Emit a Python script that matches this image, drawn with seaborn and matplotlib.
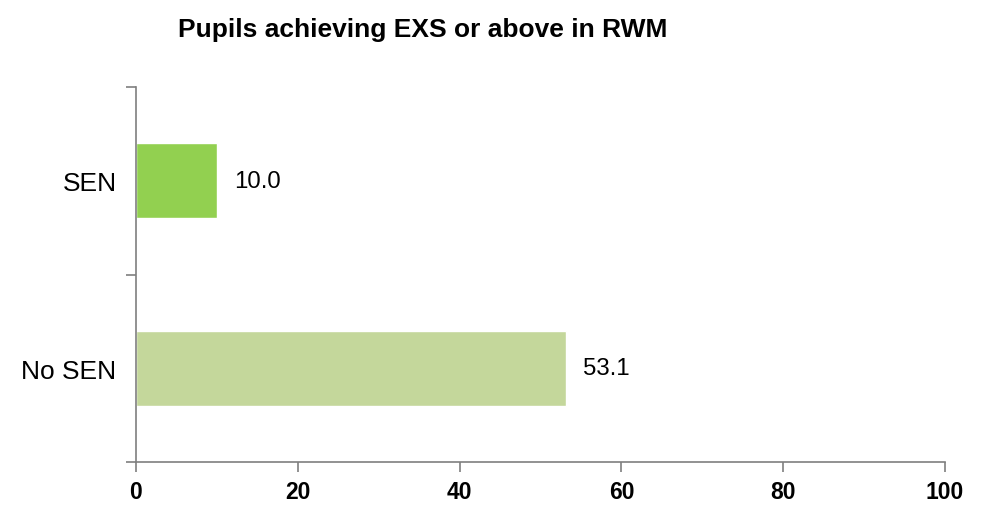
import matplotlib
matplotlib.use("Agg")
import matplotlib.pyplot as plt
import seaborn as sns
import pandas as pd

groups = ["SEN", "No SEN"]
values = [10.0, 53.1]
colors = ["#92D050", "#C4D79B"]

sns.set_style("white")
plt.rcParams["font.family"] = ["Liberation Sans", "DejaVu Sans"]
plt.rcParams["text.color"] = "black"
plt.rcParams["xtick.color"] = "black"
plt.rcParams["ytick.color"] = "black"

df = pd.DataFrame({"group": groups, "value": values})

fig = plt.figure(figsize=(9.84, 5.06), dpi=100)
ax = fig.add_axes([136 / 984, 43 / 506, 809 / 984, 375 / 506])

sns.barplot(data=df, x="value", y="group", hue="group", palette=colors,
            orient="h", width=0.4, legend=False, ax=ax, saturation=1)

for i, v in enumerate(values):
    ax.text(v + 2.1, i, f"{v:.1f}", va="center", ha="left", fontsize=17.3, color="black")

ax.set_xlim(0, 100)
ax.set_ylim(1.5, -0.5)
ax.set_xticks([0, 20, 40, 60, 80, 100])
ax.set_xticklabels(["0", "20", "40", "60", "80", "100"], fontweight="bold", fontsize=16.5)
ax.set_yticks([0, 1])
ax.set_yticklabels(groups, fontsize=19)
ax.set_yticks([-0.5, 0.5, 1.5], minor=True)
ax.tick_params(axis="y", which="major", left=False, length=0, pad=14)
ax.tick_params(axis="y", which="minor", left=True, length=7, color="#7f7f7f", width=1.2, direction="out")
ax.tick_params(axis="x", bottom=True, length=7, color="#7f7f7f", width=1.2, direction="out", pad=6)
ax.set_xlabel("")
ax.set_ylabel("")

sns.despine(ax=ax, top=True, right=True)
for side in ["left", "bottom"]:
    ax.spines[side].set_color("#7f7f7f")
    ax.spines[side].set_linewidth(1.2)

fig.text(423 / 984, 1 - 30 / 506, "Pupils achieving EXS or above in RWM",
         ha="center", va="center", fontsize=19, fontweight="bold")

fig.savefig("out.png", dpi=100, facecolor="white")
